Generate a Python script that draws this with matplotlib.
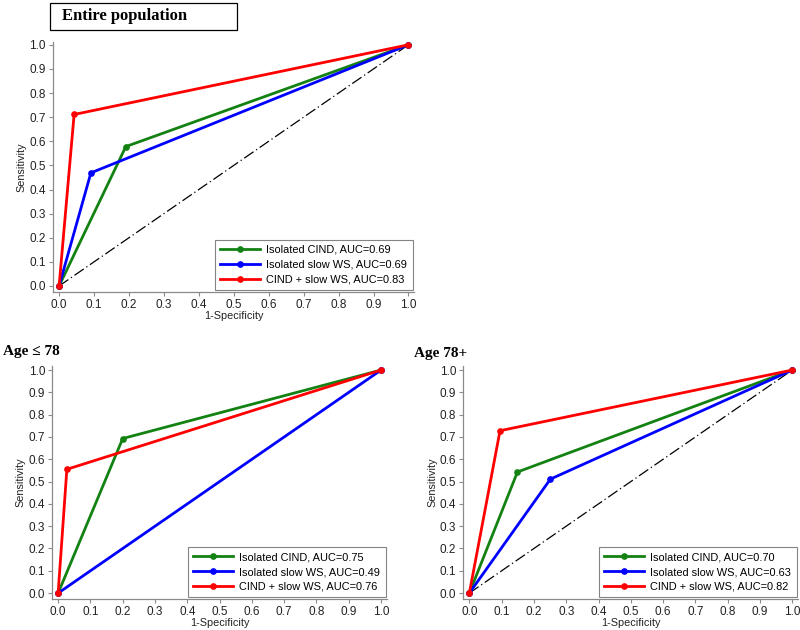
import matplotlib
matplotlib.use("Agg")
from matplotlib import pyplot as plt

# ROC points (1-specificity, sensitivity) per panel
entire_cind_x = [0, 0.191, 1]
entire_cind_y = [0, 0.578, 1]
entire_ws_x = [0, 0.091, 1]
entire_ws_y = [0, 0.469, 1]
entire_both_x = [0, 0.043, 1]
entire_both_y = [0, 0.711, 1]
entire_auc = ["0.69", "0.69", "0.83"]

young_cind_x = [0, 0.200, 1]
young_cind_y = [0, 0.693, 1]
young_ws_x = [0, 1]
young_ws_y = [0, 1]
young_both_x = [0, 0.027, 1]
young_both_y = [0, 0.555, 1]
young_auc = ["0.75", "0.49", "0.76"]

old_cind_x = [0, 0.149, 1]
old_cind_y = [0, 0.543, 1]
old_ws_x = [0, 0.251, 1]
old_ws_y = [0, 0.511, 1]
old_both_x = [0, 0.095, 1]
old_both_y = [0, 0.728, 1]
old_auc = ["0.70", "0.63", "0.82"]

ticks = [0, 0.1, 0.2, 0.3, 0.4, 0.5, 0.6, 0.7, 0.8, 0.9, 1.0]
names = ["Isolated CIND", "Isolated slow WS", "CIND + slow WS"]
colors = ["#138213", "#0000ff", "#ff0000"]

plt.rcParams['font.family'] = ['Liberation Sans', 'DejaVu Sans']

fig = plt.figure(figsize=(8, 6.3), dpi=100)


def roc_panel(rect, series, aucs, xlim, ylim, diag=True):
    ax = fig.add_axes(rect)
    if diag:
        ax.plot([0, 1], [0, 1], color="black", lw=0.9,
                linestyle=(0, (9, 2.5, 1, 2.5)), zorder=1)
    for (xs, ys), name, auc, c in zip(series, names, aucs, colors):
        ax.plot(xs, ys, color=c, lw=2.0, marker="o", markersize=3.8,
                label="%s, AUC=%s" % (name, auc), zorder=2)
    ax.set_xlim(*xlim)
    ax.set_ylim(*ylim)
    ax.set_xticks(ticks)
    ax.set_yticks(ticks)
    ax.set_xticklabels(["%.1f" % t for t in ticks])
    ax.set_yticklabels(["%.1f" % t for t in ticks])
    for s in ["top", "right"]:
        ax.spines[s].set_visible(False)
    for s in ["left", "bottom"]:
        ax.spines[s].set_color("#8a8a8a")
        ax.spines[s].set_linewidth(0.9)
    ax.tick_params(length=2.8, width=0.8, color="#8a8a8a", labelsize=8.5,
                   pad=2.2, labelcolor="#222222")
    ax.set_xlabel("1-Specificity", fontsize=7.8, labelpad=0, color="#222222")
    ax.set_ylabel("Sensitivity", fontsize=7.8, labelpad=2, color="#222222")
    leg = ax.legend(loc="lower right", fontsize=7.9, handlelength=3.6,
                    frameon=True, fancybox=False, borderaxespad=0.15,
                    borderpad=0.5, labelspacing=0.45, handletextpad=0.6)
    leg.get_frame().set_edgecolor("#666666")
    leg.get_frame().set_linewidth(0.8)
    return ax


roc_panel([0.066, 0.5365, 0.452, 0.397],
          [(entire_cind_x, entire_cind_y), (entire_ws_x, entire_ws_y),
           (entire_both_x, entire_both_y)],
          entire_auc, (-0.018, 1.017), (-0.025, 1.012))

roc_panel([0.065, 0.049, 0.419, 0.37],
          [(young_cind_x, young_cind_y), (young_ws_x, young_ws_y),
           (young_both_x, young_both_y)],
          young_auc, (-0.019, 1.019), (-0.027, 1.018), diag=False)

roc_panel([0.579, 0.049, 0.419, 0.37],
          [(old_cind_x, old_cind_y), (old_ws_x, old_ws_y),
           (old_both_x, old_both_y)],
          old_auc, (-0.019, 1.019), (-0.027, 1.018))

serif = ['Liberation Serif', 'DejaVu Serif']
fig.text(62 / 800, 1 - 16 / 630, "Entire population", va="center",
         ha="left", family=serif, weight="bold", fontsize=12)
box = plt.Rectangle((50 / 800, 1 - 30 / 630), 187 / 800, 27 / 630,
                    transform=fig.transFigure, fill=False,
                    edgecolor="black", lw=0.9)
fig.patches.append(box)
fig.text(3 / 800, 1 - 352 / 630, "Age \u2264 78", va="center", ha="left",
         family=serif, weight="bold", fontsize=11)
fig.text(414 / 800, 1 - 353 / 630, "Age 78+", va="center", ha="left",
         family=serif, weight="bold", fontsize=11)

fig.savefig("out.png", dpi=100)
